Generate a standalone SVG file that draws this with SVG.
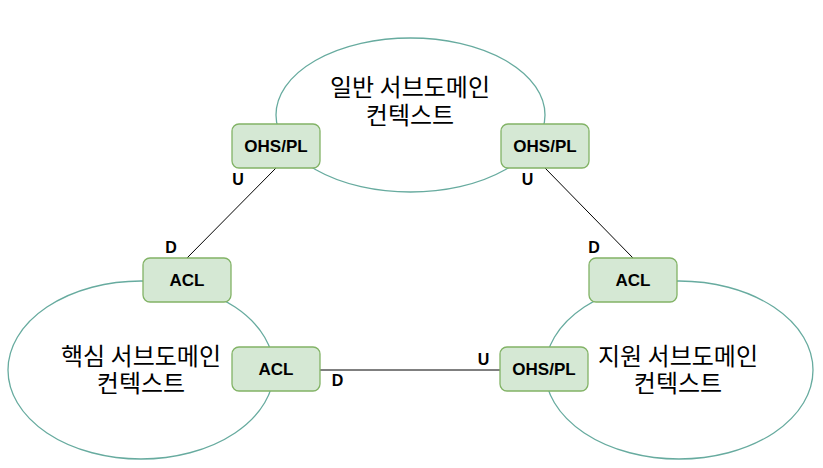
<svg xmlns="http://www.w3.org/2000/svg" width="823" height="468" viewBox="0 0 823 468">
<style>
.ctx{fill:#ffffff;stroke:#67ab9f;stroke-width:1.3}
.box{fill:#d5e8d4;stroke:#82b366;stroke-width:1.3}
.bt{font-family:"Liberation Sans",Arial,sans-serif;font-size:17px;font-weight:bold;fill:#000;text-anchor:middle}
.ct{font-family:"Noto Sans CJK KR","Noto Sans",sans-serif;font-size:24px;fill:#000;text-anchor:middle}
.lbl{font-family:"Liberation Sans",Arial,sans-serif;font-size:16px;font-weight:bold;fill:#000;text-anchor:middle}
.ln{stroke:#000;stroke-width:1;fill:none}
</style>
<rect width="823" height="468" fill="#ffffff"/>
<g id="ctx-general">
<ellipse class="ctx" cx="410.5" cy="115" rx="134.5" ry="77"/>
<text class="ct"><tspan x="410" y="96">일반 서브도메인</tspan><tspan x="410" y="124">컨텍스트</tspan></text>
</g>
<g id="ctx-core">
<ellipse class="ctx" cx="141" cy="370" rx="133" ry="89"/>
<text class="ct"><tspan x="141" y="365">핵심 서브도메인</tspan><tspan x="141" y="392">컨텍스트</tspan></text>
</g>
<g id="ctx-support">
<ellipse class="ctx" cx="679" cy="370" rx="134" ry="89"/>
<text class="ct"><tspan x="678" y="365">지원 서브도메인</tspan><tspan x="678" y="392">컨텍스트</tspan></text>
</g>
<g id="connectors">
<line class="ln" x1="276" y1="168" x2="187" y2="258"/>
<line class="ln" x1="545" y1="168" x2="633" y2="258"/>
<line class="ln" x1="320" y1="370" x2="500" y2="370"/>
<text class="lbl" x="238" y="185">U</text>
<text class="lbl" x="171" y="253">D</text>
<text class="lbl" x="527.5" y="185">U</text>
<text class="lbl" x="594" y="253">D</text>
<text class="lbl" x="337.5" y="386">D</text>
<text class="lbl" x="483.5" y="365">U</text>
</g>
<g id="ohs-top-left">
<rect class="box" x="232" y="124" width="88" height="44" rx="7"/>
<text class="bt" x="276" y="152">OHS/PL</text>
</g>
<g id="ohs-top-right">
<rect class="box" x="501" y="124" width="88" height="44" rx="7"/>
<text class="bt" x="545" y="152">OHS/PL</text>
</g>
<g id="acl-left">
<rect class="box" x="143" y="258" width="88" height="44" rx="7"/>
<text class="bt" x="187" y="286">ACL</text>
</g>
<g id="acl-right">
<rect class="box" x="589" y="258" width="88" height="44" rx="7"/>
<text class="bt" x="633" y="286">ACL</text>
</g>
<g id="acl-bottom">
<rect class="box" x="232" y="347" width="88" height="44" rx="7"/>
<text class="bt" x="276" y="375">ACL</text>
</g>
<g id="ohs-bottom">
<rect class="box" x="500" y="347" width="88" height="44" rx="7"/>
<text class="bt" x="544" y="375">OHS/PL</text>
</g>
</svg>
